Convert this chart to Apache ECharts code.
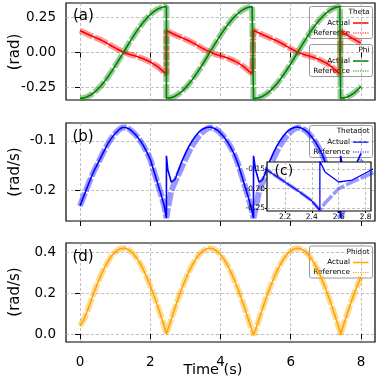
<!DOCTYPE html>
<html>
<head>
<meta charset="utf-8">
<script src="https://cdn.jsdelivr.net/npm/echarts@6/dist/echarts.min.js"></script>
<style>
html, body { margin: 0; padding: 0; background: #fff; }
#chart { width: 378px; height: 378px; }
</style>
</head>
<body>
<div id="chart"></div>
<script>
// time samples (duplicated instants hold the jumps)
var time = [
    0, 0.1, 0.2, 0.3, 0.4, 0.5, 0.6, 0.7, 0.8, 0.9, 1.0, 1.1, 1.2, 1.3, 1.4, 1.5, 1.6, 1.7, 1.8, 1.9, 2.0, 2.1, 2.2, 2.3, 2.4,
    2.46, 2.46,
    2.5, 2.6, 2.7, 2.8, 2.9, 3.0, 3.1, 3.2, 3.3, 3.4, 3.5, 3.6, 3.7, 3.8, 3.9, 4.0, 4.1, 4.2, 4.3, 4.4, 4.5, 4.6, 4.7, 4.8, 4.9,
    4.94, 4.94,
    5.0, 5.1, 5.2, 5.3, 5.4, 5.5, 5.6, 5.7, 5.8, 5.9, 6.0, 6.1, 6.2, 6.3, 6.4, 6.5, 6.6, 6.7, 6.8, 6.9, 7.0, 7.1, 7.2, 7.3, 7.4,
    7.42, 7.42,
    7.5, 7.6, 7.7, 7.8, 7.9, 8.0
];

var theta = [
    0.157, 0.145, 0.133, 0.122, 0.111, 0.100, 0.089, 0.076, 0.062, 0.047, 0.033, 0.020, 0.007, -0.004, -0.013, -0.020, -0.027, -0.036, -0.045, -0.056, -0.069, -0.084, -0.100, -0.121, -0.144,
    -0.158, 0.158,
    0.152, 0.140, 0.128, 0.117, 0.106, 0.095, 0.084, 0.071, 0.057, 0.042, 0.028, 0.015, 0.003, -0.007, -0.016, -0.023, -0.031, -0.040, -0.050, -0.062, -0.075, -0.091, -0.110, -0.132, -0.154,
    -0.158, 0.158,
    0.152, 0.140, 0.128, 0.117, 0.106, 0.095, 0.084, 0.071, 0.057, 0.042, 0.028, 0.015, 0.003, -0.007, -0.016, -0.023, -0.031, -0.040, -0.050, -0.062, -0.075, -0.091, -0.110, -0.132, -0.154,
    -0.158, 0.158,
    0.140, 0.125, 0.110, 0.096, 0.082, 0.068
];

var phi = [
    -0.330, -0.327, -0.319, -0.306, -0.288, -0.265, -0.239, -0.208, -0.173, -0.136, -0.097, -0.056, -0.015, 0.027, 0.069, 0.109, 0.148, 0.184, 0.217, 0.247, 0.273, 0.294, 0.311, 0.322, 0.329,
    0.330, -0.330,
    -0.329, -0.325, -0.315, -0.300, -0.280, -0.255, -0.227, -0.194, -0.159, -0.121, -0.081, -0.040, 0.002, 0.044, 0.085, 0.125, 0.163, 0.197, 0.229, 0.257, 0.282, 0.301, 0.316, 0.326, 0.330,
    0.330, -0.330,
    -0.329, -0.325, -0.315, -0.300, -0.280, -0.255, -0.227, -0.194, -0.159, -0.121, -0.081, -0.040, 0.002, 0.044, 0.085, 0.125, 0.163, 0.197, 0.229, 0.257, 0.282, 0.301, 0.316, 0.326, 0.330,
    0.330, -0.330,
    -0.327, -0.321, -0.309, -0.292, -0.270, -0.244
];

var thetadotRef = [
    -0.231, -0.212, -0.194, -0.176, -0.160, -0.146, -0.132, -0.118, -0.105, -0.094, -0.085, -0.078, -0.073, -0.073, -0.076, -0.082, -0.089, -0.098, -0.109, -0.122, -0.137, -0.160, -0.183, -0.206, -0.231,
    -0.255, -0.255,
    -0.236, -0.200, -0.183, -0.168, -0.152, -0.137, -0.122, -0.109, -0.098, -0.089, -0.081, -0.076, -0.073, -0.074, -0.078, -0.084, -0.092, -0.102, -0.114, -0.128, -0.146, -0.169, -0.192, -0.215, -0.242,
    -0.255, -0.255,
    -0.236, -0.200, -0.183, -0.168, -0.152, -0.137, -0.122, -0.109, -0.098, -0.089, -0.081, -0.076, -0.073, -0.074, -0.078, -0.084, -0.092, -0.102, -0.114, -0.128, -0.146, -0.169, -0.192, -0.215, -0.242,
    -0.255, -0.255,
    -0.236, -0.200, -0.183, -0.168, -0.152, -0.137
];

var thetadotAct = [
    -0.231, -0.212, -0.194, -0.176, -0.160, -0.146, -0.132, -0.118, -0.105, -0.094, -0.085, -0.078, -0.073, -0.073, -0.076, -0.082, -0.089, -0.098, -0.109, -0.122, -0.137, -0.160, -0.183, -0.206, -0.231,
    -0.255, -0.130,
    -0.158, -0.183, -0.178, -0.160, -0.141, -0.125, -0.111, -0.099, -0.089, -0.081, -0.076, -0.073, -0.072, -0.074, -0.078, -0.084, -0.092, -0.102, -0.114, -0.128, -0.146, -0.169, -0.192, -0.215, -0.242,
    -0.255, -0.130,
    -0.158, -0.183, -0.178, -0.160, -0.141, -0.125, -0.111, -0.099, -0.089, -0.081, -0.076, -0.073, -0.072, -0.074, -0.078, -0.084, -0.092, -0.102, -0.114, -0.128, -0.146, -0.169, -0.192, -0.215, -0.242,
    -0.255, -0.130,
    -0.158, -0.183, -0.178, -0.160, -0.141, -0.125
];

var phidot = [
    0.040, 0.068, 0.109, 0.156, 0.205, 0.249, 0.290, 0.326, 0.357, 0.383, 0.401, 0.414, 0.420, 0.419, 0.411, 0.396, 0.375, 0.349, 0.316, 0.278, 0.236, 0.191, 0.142, 0.091, 0.037,
    0.000, 0.000,
    0.021, 0.074, 0.126, 0.176, 0.223, 0.266, 0.305, 0.339, 0.368, 0.391, 0.407, 0.417, 0.420, 0.416, 0.406, 0.389, 0.365, 0.337, 0.302, 0.262, 0.219, 0.171, 0.121, 0.069, 0.016,
    -0.005, -0.005,
    0.021, 0.074, 0.126, 0.176, 0.223, 0.266, 0.305, 0.339, 0.368, 0.391, 0.407, 0.417, 0.420, 0.416, 0.406, 0.389, 0.365, 0.337, 0.302, 0.262, 0.219, 0.171, 0.121, 0.069, 0.016,
    -0.005, -0.005,
    0.042, 0.095, 0.147, 0.194, 0.238, 0.280
];

var timeTicks = [0, 2, 4, 6, 8];
var insetTimeTicks = [2.2, 2.4, 2.6, 2.8];
var angleTicks = [-0.25, 0, 0.25];
var thetadotTicks = [-0.2, -0.1];
var phidotTicks = [0, 0.2, 0.4];
var insetTicks = [-0.25, -0.2, -0.15];

var FONT = 'DejaVu Sans';
var GRIDLINE = {show: true, lineStyle: {type: [3, 2], color: '#b0b0b0', width: 0.8}};

function pairs(vals) {
    return time.map(function (t, i) { return [t, vals[i]]; });
}

function fixed(n) {
    return function (v) { return Number(v).toFixed(n); };
}

function mainX(idx, showLabel) {
    return {
        type: 'value', gridIndex: idx, min: -0.4, max: 8.4,
        axisLine: {show: false},
        axisTick: {show: true, length: 5, customValues: timeTicks, lineStyle: {color: '#000', width: 1}},
        axisLabel: {show: showLabel, customValues: timeTicks, fontSize: 13.5, fontFamily: FONT, color: '#000', margin: 13},
        splitLine: GRIDLINE
    };
}

function mainY(idx, min, max, ticks, digits) {
    return {
        type: 'value', gridIndex: idx, min: min, max: max,
        axisLine: {show: false},
        axisTick: {show: true, length: 5, customValues: ticks, lineStyle: {color: '#000', width: 1}},
        axisLabel: {customValues: ticks, formatter: fixed(digits), fontSize: 13.5, fontFamily: FONT, color: '#000', margin: 10},
        splitLine: GRIDLINE
    };
}

function refLine(idx, vals, color, z, w) {
    return {
        type: 'line', xAxisIndex: idx, yAxisIndex: idx, data: pairs(vals),
        symbol: 'none', silent: true, z: z || 2,
        lineStyle: {color: color, width: w || 6, type: [14, 2], opacity: 0.4}
    };
}

function actLine(idx, vals, color, z, w) {
    return {
        type: 'line', xAxisIndex: idx, yAxisIndex: idx, data: pairs(vals),
        symbol: 'none', silent: true, z: z || 3,
        lineStyle: {color: color, width: w || 1.6}
    };
}

function legendBox(top, title, color) {
    var txt = function (s, y, x) {
        return {type: 'text', x: x, y: y, style: {text: s, fill: '#000', font: '7.3px ' + FONT, textAlign: 'right', textVerticalAlign: 'middle'}};
    };
    return {
        type: 'group', z: 30,
        children: [
            {type: 'rect', shape: {x: 309.5, y: top, width: 63, height: 32, r: 2}, style: {fill: 'rgba(255,255,255,0.9)', stroke: '#999', lineWidth: 1}},
            txt(title, top + 6, 369.5),
            txt('Actual', top + 16.5, 350),
            txt('Reference', top + 26.5, 350),
            {type: 'line', shape: {x1: 353, y1: top + 16.5, x2: 368.5, y2: top + 16.5}, style: {stroke: color, lineWidth: 1.5}},
            {type: 'line', shape: {x1: 353, y1: top + 26.5, x2: 368.5, y2: top + 26.5}, style: {stroke: color, lineWidth: 1.2, lineDash: [1.2, 1.2]}}
        ]
    };
}

function label(s, x, y, size, align, rot) {
    return {
        type: 'text', x: x, y: y, rotation: rot || 0, z: 30,
        style: {text: s, fill: '#000', font: size + 'px ' + FONT, textAlign: align || 'left', textVerticalAlign: 'middle'}
    };
}

var chart = echarts.init(document.getElementById('chart'), null, {renderer: 'canvas'});

var frame = {show: true, borderColor: '#000', borderWidth: 1.2, backgroundColor: '#fff'};

var option = {
    animation: false,
    backgroundColor: '#fff',
    grid: [
        Object.assign({left: 66, top: 3, width: 309, height: 97}, frame),
        Object.assign({left: 66, top: 123, width: 309, height: 98}, frame),
        Object.assign({left: 66, top: 243, width: 309, height: 99}, frame),
        Object.assign({left: 267, top: 162, width: 104, height: 49, z: 5}, frame)
    ],
    xAxis: [
        mainX(0, false),
        mainX(1, false),
        mainX(2, true),
        {
            type: 'value', gridIndex: 3, min: 2.067, max: 2.84, z: 11,
            axisLine: {show: false},
            axisTick: {show: true, length: 2, customValues: insetTimeTicks, lineStyle: {color: '#000'}},
            axisLabel: {customValues: insetTimeTicks, formatter: fixed(1), fontSize: 7.5, fontFamily: FONT, color: '#000', margin: 2},
            splitLine: GRIDLINE
        }
    ],
    yAxis: [
        mainY(0, -0.342, 0.356, angleTicks, 2),
        mainY(1, -0.261, -0.064, thetadotTicks, 1),
        mainY(2, -0.039, 0.4455, phidotTicks, 1),
        {
            type: 'value', gridIndex: 3, min: -0.257, max: -0.132, z: 11,
            axisLine: {show: false},
            axisTick: {show: true, length: 2, customValues: insetTicks, lineStyle: {color: '#000'}},
            axisLabel: {customValues: insetTicks, formatter: fixed(2), fontSize: 7.5, fontFamily: FONT, color: '#000', margin: 2},
            splitLine: GRIDLINE
        }
    ],
    series: [
        refLine(0, theta, '#ff0000'),
        actLine(0, theta, '#ff0000'),
        refLine(0, phi, '#008000'),
        actLine(0, phi, '#008000'),
        refLine(1, thetadotRef, '#0000ff'),
        actLine(1, thetadotAct, '#0000ff'),
        refLine(2, phidot, '#ffa500'),
        actLine(2, phidot, '#ffa500'),
        refLine(3, thetadotRef, '#0000ff', 12, 3.5),
        actLine(3, thetadotAct, '#0000ff', 13, 1.3)
    ],
    graphic: {
        elements: [
            legendBox(6.5, 'Theta', '#ff0000'),
            legendBox(44.5, 'Phi', '#008000'),
            legendBox(125.5, 'Thetadot', '#0000ff'),
            legendBox(246, 'Phidot', '#ffa500'),
            label('(a)', 73, 16.5, 15),
            label('(b)', 72.5, 137.5, 15),
            label('(c)', 274.5, 171, 14),
            label('(d)', 72.5, 257.5, 15),
            label('(rad)', 15, 52, 15, 'center', Math.PI / 2),
            label('(rad/s)', 15, 172, 15, 'center', Math.PI / 2),
            label('(rad/s)', 15, 292, 15, 'center', Math.PI / 2),
            label('Time (s)', 213, 370, 14.5, 'center')
        ]
    }
};

chart.setOption(option);
</script>
</body>
</html>
